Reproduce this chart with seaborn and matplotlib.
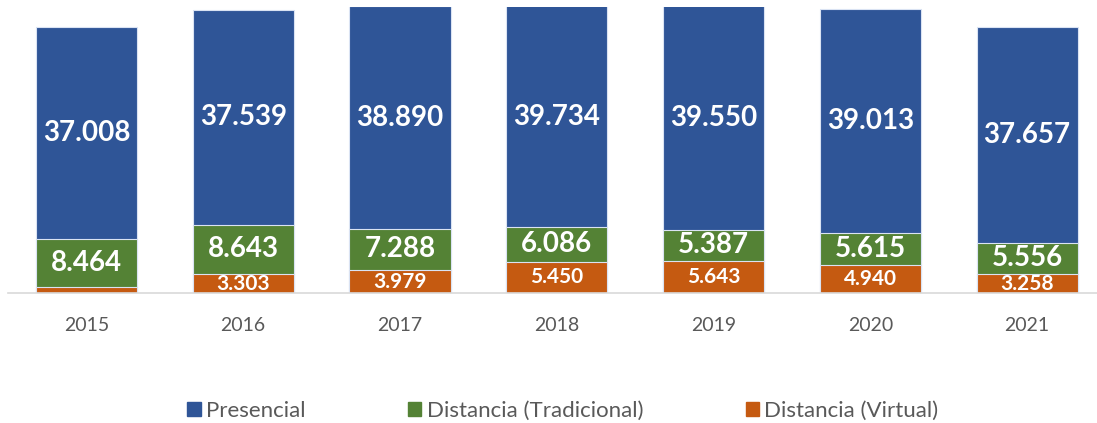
import matplotlib
matplotlib.use("Agg")
import matplotlib.pyplot as plt
from matplotlib.patches import Patch
import numpy as np
import pandas as pd
import seaborn as sns

years = ["2015", "2016", "2017", "2018", "2019", "2020", "2021"]
presencial = [37008, 37539, 38890, 39734, 39550, 39013, 37657]
trad = [8464, 8643, 7288, 6086, 5387, 5615, 5556]
virtual = [1000, 3303, 3979, 5450, 5643, 4940, 3258]

blue = "#2F5597"
green = "#548235"
orange = "#C55A11"

sns.set_style("white")
plt.rcParams["font.family"] = ["Lato", "DejaVu Sans"]

df = pd.DataFrame({"year": years, "pres": presencial, "trad": trad, "virt": virtual})
df["low"] = df["virt"]
df["mid"] = df["virt"] + df["trad"]
df["top"] = df["mid"] + df["pres"]

fig = plt.figure(figsize=(10.97, 4.23), dpi=100)
ax = fig.add_axes([8 / 1097, 130 / 423, 1089 / 1097, 286 / 423])

w = 0.645
edge = dict(edgecolor="#DAE3F3", linewidth=0.8)
sns.barplot(data=df, x="year", y="top", color=blue, width=w, saturation=1, ax=ax, **edge)
sns.barplot(data=df, x="year", y="mid", color=green, width=w, saturation=1, ax=ax, **edge)
sns.barplot(data=df, x="year", y="low", color=orange, width=w, saturation=1, ax=ax, **edge)

ymax = 50000
ax.set_ylim(0, ymax)
ax.set_xlim(-0.5, -0.5 + 1089 / 156.8)


def fmt(v):
    return f"{v:,}".replace(",", ".")


for i, r in df.iterrows():
    top_vis = min(r["top"], ymax)
    ax.text(i, (r["mid"] + top_vis) / 2, fmt(r["pres"]), ha="center", va="center",
            color="white", fontsize=20, fontweight="bold")
    ax.text(i, (r["low"] + r["mid"]) / 2, fmt(r["trad"]), ha="center", va="center",
            color="white", fontsize=20, fontweight="bold")
    if r["virt"] > 2000:
        ax.text(i, r["low"] / 2, fmt(r["virt"]), ha="center", va="center",
                color="white", fontsize=15, fontweight="bold")

for s in ["top", "right", "left"]:
    ax.spines[s].set_visible(False)
ax.spines["bottom"].set_color("#D9D9D9")
ax.spines["bottom"].set_linewidth(1.2)
ax.set_yticks([])
ax.set_xlabel("")
ax.set_ylabel("")
ax.tick_params(axis="x", length=0, pad=17, labelsize=14, labelcolor="#595959")

handles = [Patch(color=blue, label="Presencial"),
           Patch(color=green, label="Distancia (Tradicional)"),
           Patch(color=orange, label="Distancia (Virtual)")]
fig.legend(handles=handles, loc="center", bbox_to_anchor=(563 / 1097, 1 - 411 / 423),
           ncol=3, frameon=False, fontsize=16, handlelength=0.6, handleheight=0.6,
           handletextpad=0.25, columnspacing=4.6, labelcolor="#595959")

fig.savefig("out.png", dpi=100)
